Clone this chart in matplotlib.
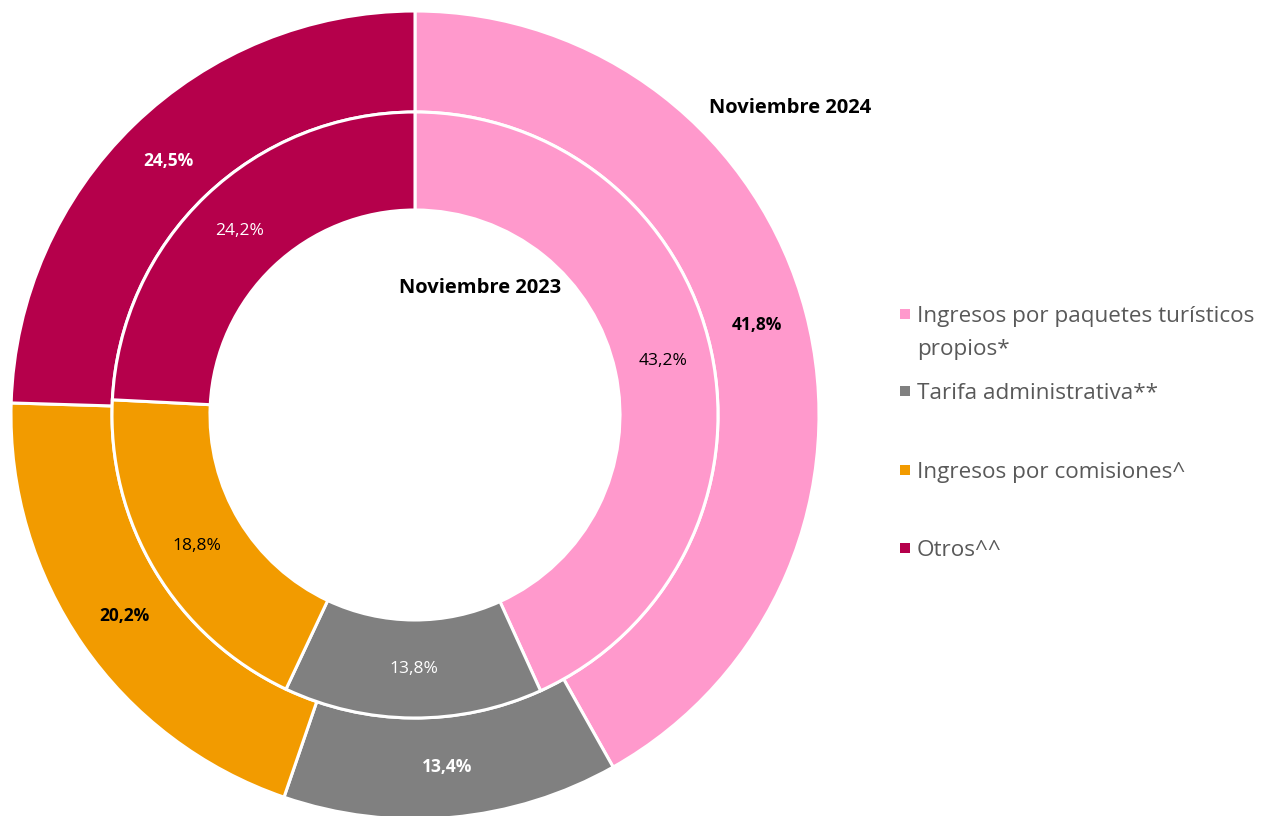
import matplotlib
matplotlib.use("Agg")
import matplotlib.pyplot as plt
from matplotlib.patches import Rectangle
import numpy as np

plt.rcParams['font.family'] = ['Open Sans', 'DejaVu Sans']

categories = ["Ingresos por paquetes turísticos\npropios*", "Tarifa administrativa**",
              "Ingresos por comisiones^", "Otros^^"]
colors = ["#FF99CC", "#808080", "#F29B00", "#B5004B"]
nov2024 = [41.8, 13.4, 20.2, 24.5]
nov2023 = [43.2, 13.8, 18.8, 24.2]
labels2024 = ["41,8%", "13,4%", "20,2%", "24,5%"]
labels2023 = ["43,2%", "13,8%", "18,8%", "24,2%"]
outer_txt_colors = ["black", "white", "black", "white"]
inner_txt_colors = ["black", "white", "black", "white"]

W, H = 1266, 816
fig = plt.figure(figsize=(W / 100, H / 100), dpi=100)
cx, cy, R = 415, 415, 404
ax = fig.add_axes([(cx - R) / W, (H - cy - R) / H, 2 * R / W, 2 * R / H])
ax.set_xlim(-1, 1)
ax.set_ylim(-1, 1)
ax.set_aspect('equal')
ax.axis('off')

r_out = 1.0
r_mid = 303 / R
r_in = 205 / R
wp = dict(edgecolor='white', linewidth=2.2)

ax.pie(nov2024, radius=r_out, colors=colors, startangle=90, counterclock=False,
       wedgeprops=dict(width=r_out - r_mid, **wp))
ax.pie(nov2023, radius=r_mid, colors=colors, startangle=90, counterclock=False,
       wedgeprops=dict(width=r_mid - r_in, **wp))
ax.set_xlim(-1, 1)
ax.set_ylim(-1, 1)


def place(values, labels, tcolors, rr, weight):
    total = sum(values)
    start = 90.0
    for v, lab, tc in zip(values, labels, tcolors):
        ang = start - v / total * 360 / 2
        start -= v / total * 360
        a = np.deg2rad(ang)
        ax.text(rr * np.cos(a), rr * np.sin(a), lab, ha='center', va='center',
                color=tc, fontsize=12.5, fontweight=weight)


place(nov2024, labels2024, outer_txt_colors, (r_out + r_mid) / 2, 'bold')
place(nov2023, labels2023, inner_txt_colors, (r_mid + r_in) / 2, 'normal')

fig.text(790 / W, 1 - 108 / H, "Noviembre 2024", ha='center', va='center',
         fontsize=14.5, fontweight='bold', color='black')
fig.text(480 / W, 1 - 288 / H, "Noviembre 2023", ha='center', va='center',
         fontsize=14.5, fontweight='bold', color='black')

# legend
leg_base = [322, 399, 478, 556]
for cat, col, yb in zip(categories, colors, leg_base):
    fig.patches.append(Rectangle((900 / W, 1 - (yb - 3) / H), 10 / W, 10 / H,
                                 transform=fig.transFigure, facecolor=col,
                                 edgecolor='none'))
    for i, line in enumerate(cat.split("\n")):
        fig.text(917 / W, 1 - (yb + 33 * i) / H, line, ha='left', va='baseline',
                 fontsize=16.2, color='#595959')

fig.savefig("out.png", dpi=100, facecolor='white')
